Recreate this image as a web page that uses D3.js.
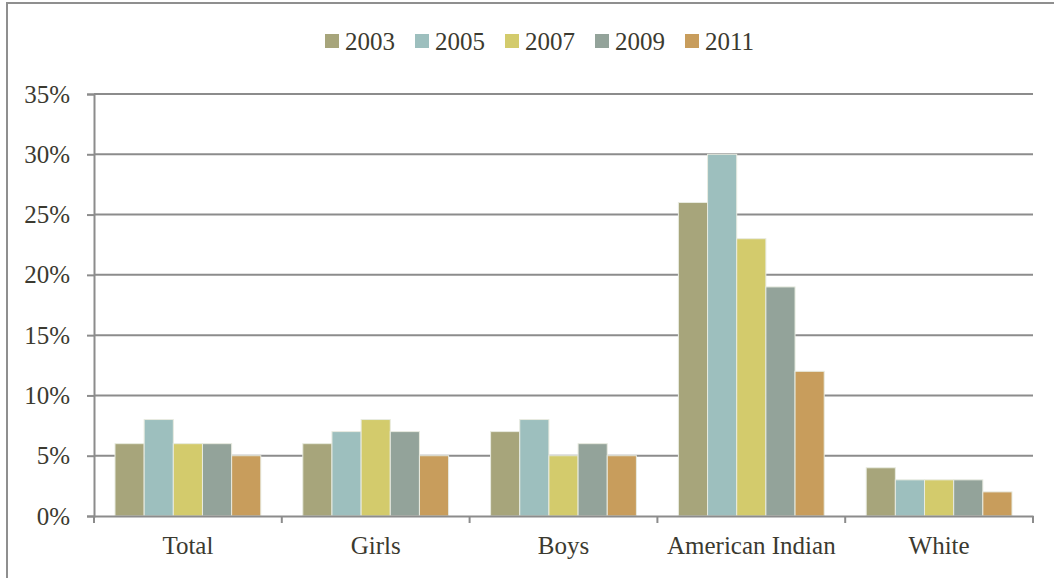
<!DOCTYPE html>
<html>
<head>
<meta charset="utf-8">
<script src="https://cdn.jsdelivr.net/npm/d3@7"></script>
<style>
  body { margin: 0; background: #fff; }
</style>
</head>
<body>
<svg id="chart" width="1054" height="578"></svg>
<script>
// data
const categories = ["Total", "Girls", "Boys", "American Indian", "White"];
const years = ["2003", "2005", "2007", "2009", "2011"];
const v2003 = [6, 6, 7, 26, 4];
const v2005 = [8, 7, 8, 30, 3];
const v2007 = [6, 8, 5, 23, 3];
const v2009 = [6, 7, 6, 19, 3];
const v2011 = [5, 5, 5, 12, 2];
const yTicks = [0, 5, 10, 15, 20, 25, 30, 35];
const colors = ["#a7a57b", "#9dbfbe", "#d3cb6c", "#93a39a", "#c89d5c"];

const series = [v2003, v2005, v2007, v2009, v2011];
const serif = "'Liberation Serif', 'DejaVu Serif', serif";

const svg = d3.select("#chart");

// outer frame
svg.append("rect")
  .attr("x", 7).attr("y", 3)
  .attr("width", 1060).attr("height", 600)
  .attr("fill", "none")
  .attr("stroke", "#8f8f8f")
  .attr("stroke-width", 2);

const margin = { top: 94, left: 94, right: 21, bottom: 62 };
const width = 1054 - margin.left - margin.right;
const height = 578 - margin.top - margin.bottom;

const g = svg.append("g")
  .attr("transform", "translate(" + margin.left + "," + margin.top + ")");

const x = d3.scaleBand()
  .domain(categories)
  .range([0, width]);

const x1 = d3.scaleBand()
  .domain(years)
  .range([21, x.bandwidth() - 21]);

const y = d3.scaleLinear()
  .domain([0, 35])
  .range([height, 0]);

// gridlines
g.selectAll(".grid")
  .data(yTicks.filter(d => d > 0))
  .enter().append("line")
  .attr("x1", 0).attr("x2", width)
  .attr("y1", d => y(d)).attr("y2", d => y(d))
  .attr("stroke", "#8c8c8c")
  .attr("stroke-width", 2);

// bars
const groups = g.selectAll(".cat")
  .data(categories)
  .enter().append("g")
  .attr("transform", d => "translate(" + x(d) + ",0)");

groups.selectAll("rect")
  .data((c, i) => years.map((yr, j) => ({ yr: yr, value: series[j][i], color: colors[j] })))
  .enter().append("rect")
  .attr("x", d => x1(d.yr))
  .attr("width", x1.bandwidth())
  .attr("y", d => y(d.value))
  .attr("height", d => height - y(d.value))
  .attr("fill", d => d.color)
  .attr("stroke", "#e8ebe0")
  .attr("stroke-width", 1);

// y axis
const yAxis = g.append("g")
  .call(d3.axisLeft(y).tickValues(yTicks).tickFormat(d => d + "%").tickSize(7).tickPadding(17));
yAxis.attr("font-family", serif);
yAxis.select(".domain").attr("stroke", "#8c8c8c").attr("stroke-width", 2);
yAxis.selectAll(".tick line").attr("stroke", "#8c8c8c").attr("stroke-width", 2);
yAxis.selectAll("text")
  .attr("font-family", serif)
  .attr("font-size", 25)
  .attr("fill", "#3b3a30");

// x axis
const xAxis = g.append("g")
  .attr("transform", "translate(0," + height + ")")
  .call(d3.axisBottom(x).tickSize(0).tickPadding(20));
xAxis.attr("font-family", serif);
xAxis.select(".domain").attr("stroke", "#8c8c8c").attr("stroke-width", 2);
xAxis.selectAll("text")
  .attr("font-family", serif)
  .attr("font-size", 25)
  .attr("fill", "#3b3a30");

// category separator ticks
const sep = d3.range(categories.length + 1).map(i => i * x.step());
g.selectAll(".sep")
  .data(sep)
  .enter().append("line")
  .attr("x1", d => d).attr("x2", d => d)
  .attr("y1", height).attr("y2", height + 7)
  .attr("stroke", "#8c8c8c")
  .attr("stroke-width", 2);

// legend
const legend = svg.append("g")
  .attr("transform", "translate(325,34)");
const item = legend.selectAll("g")
  .data(years)
  .enter().append("g")
  .attr("transform", (d, i) => "translate(" + (i * 90) + ",0)");
item.append("rect")
  .attr("width", 14).attr("height", 14)
  .attr("fill", (d, i) => colors[i]);
item.append("text")
  .attr("x", 20).attr("y", 16)
  .attr("font-family", serif)
  .attr("font-size", 25)
  .attr("fill", "#3b3a30")
  .text(d => d);
</script>
</body>
</html>
